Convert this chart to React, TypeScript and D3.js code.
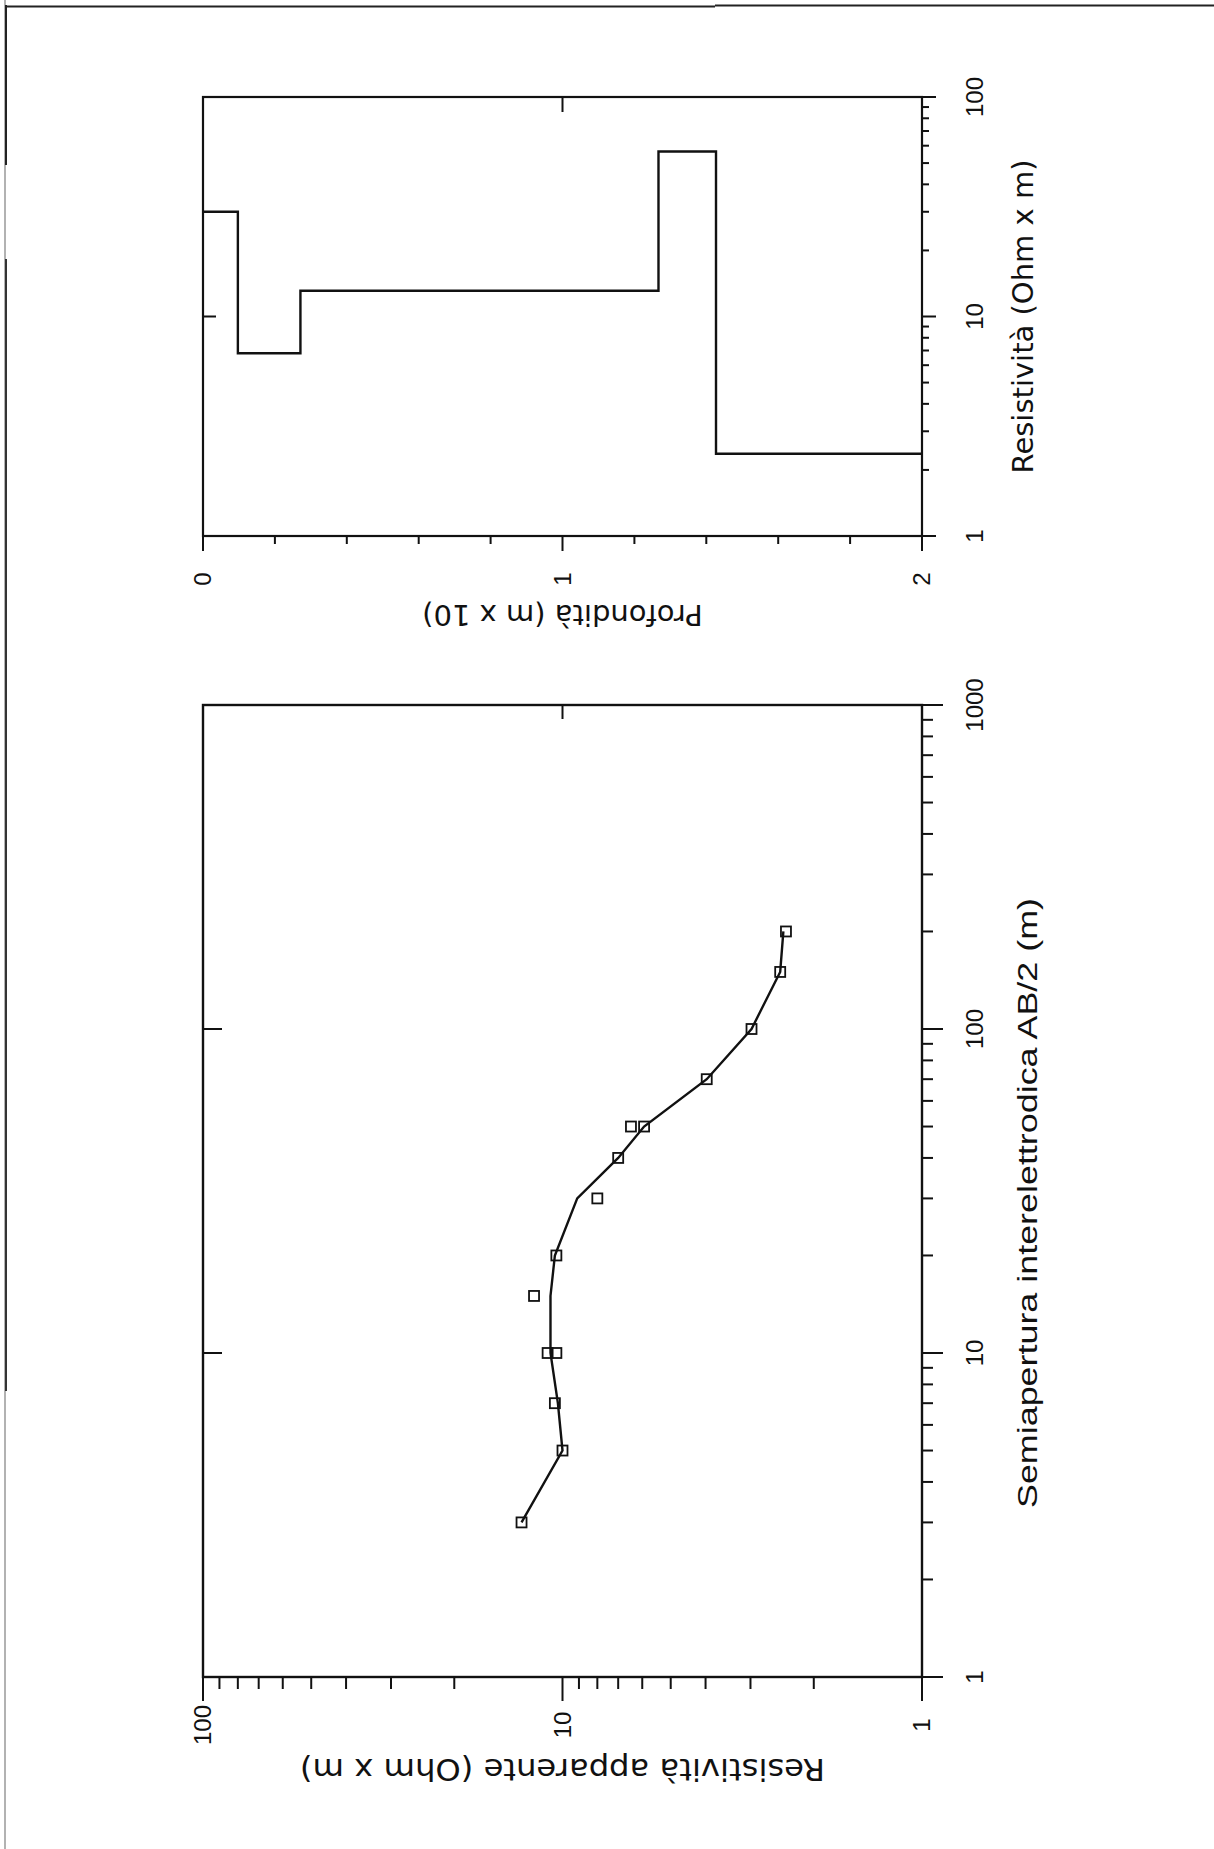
import React from 'react';
import * as d3 from 'd3';

// ---- Data ----
const abPoints = [3, 5, 7, 10, 10, 15, 20, 30, 40, 50, 50, 70, 100, 150, 200];
const rhoPoints = [13.0, 10.0, 10.5, 11.0, 10.4, 12.0, 10.4, 8.0, 7.0, 6.45, 5.93, 3.97, 2.98, 2.48, 2.39];
const abCurve = [3, 5, 7, 10, 15, 20, 30, 40, 50, 70, 100, 150, 200];
const rhoCurve = [13.0, 10.0, 10.3, 10.8, 10.8, 10.5, 9.1, 7.0, 5.93, 3.97, 2.98, 2.48, 2.43];
const layerRho = [30, 6.8, 13.1, 56.5, 2.37];
const layerTop = [0, 0.097, 0.271, 1.267, 1.427];
const maxDepth = 2;
const abTickLabels = [1, 10, 100, 1000];
const rhoTickLabels = [1, 10, 100];
const resTickLabels = [1, 10, 100];
const depthTickLabels = [0, 1, 2];

const titleAB = 'Semiapertura interelettrodica AB/2 (m)';
const titleRhoA = 'Resistività apparente (Ohm x m)';
const titleRes = 'Resistività (Ohm x m)';
const titleDepth = 'Profondità (m x 10)';

const W = 1214;
const H = 1849;

export default function App() {
  // scales in the un-rotated (landscape) frame
  const xAB = d3.scaleLog().domain([1, 1000]).range([172, 1144]);
  const yRho = d3.scaleLog().domain([1, 100]).range([922, 203]);
  const xRes = d3.scaleLog().domain([1, 100]).range([1313, 1752]);
  const yDep = d3.scaleLinear().domain([0, maxDepth]).range([203, 922]);

  const isPow10 = (t: number) => Math.abs(Math.log10(t) - Math.round(Math.log10(t))) < 1e-9;

  const curve = d3
    .line<[number, number]>()
    .x((d) => xAB(d[0]))
    .y((d) => yRho(d[1]))(abCurve.map((a, i) => [a, rhoCurve[i]] as [number, number]));

  const stepPts: [number, number][] = [];
  layerRho.forEach((r, i) => {
    const top = layerTop[i];
    const bot = i + 1 < layerTop.length ? layerTop[i + 1] : maxDepth;
    stepPts.push([r, top]);
    stepPts.push([r, bot]);
  });
  const step = d3
    .line<[number, number]>()
    .x((d) => xRes(d[0]))
    .y((d) => yDep(d[1]))(stepPts);

  const tickFont = '"Liberation Sans", Arial, sans-serif';
  const titleFont = '"DejaVu Sans", "Liberation Sans", sans-serif';

  return (
    <svg
      width={W}
      height={H}
      style={{ position: 'absolute', left: 0, top: 0, background: '#fff' }}
    >
      <rect x={0} y={0} width={W} height={H} fill="#fff" />
      {/* page border (scan frame) */}
      <line x1={5} y1={0} x2={5} y2={H} stroke="#999" strokeWidth={1.5} />
      <line x1={6} y1={5} x2={6} y2={165} stroke="#222" strokeWidth={2} />
      <line x1={6} y1={259} x2={6} y2={1391} stroke="#333" strokeWidth={2} />
      <line x1={5} y1={6.5} x2={715} y2={6.5} stroke="#222" strokeWidth={2} />
      <line x1={715} y1={5.5} x2={W} y2={5.5} stroke="#222" strokeWidth={2} />

      <g transform={`translate(0,${H}) rotate(-90)`} fill="none" stroke="#111">
        {/* ===== Left (VES) plot ===== */}
        <rect x={172} y={203} width={1144 - 172} height={922 - 203} strokeWidth={2.4} />
        {/* bottom axis: AB/2 */}
        {xAB.ticks().map((t, i) => (
          <line key={'ab' + i} x1={xAB(t)} x2={xAB(t)} y1={922} y2={922 + (isPow10(t) ? 21 : 11)} strokeWidth={2} />
        ))}
        {/* left axis: rho apparent */}
        {yRho.ticks().map((t, i) => (
          <line key={'rh' + i} x1={172} x2={172 - (isPow10(t) ? 24 : 12)} y1={yRho(t)} y2={yRho(t)} strokeWidth={2} />
        ))}
        {/* inner mirror ticks */}
        {[10, 100].map((t) => (
          <line key={'abt' + t} x1={xAB(t)} x2={xAB(t)} y1={203} y2={203 + 19} strokeWidth={2} />
        ))}
        <line x1={1144} x2={1144 - 14} y1={yRho(10)} y2={yRho(10)} strokeWidth={2} />

        <path d={curve || ''} strokeWidth={2.4} />
        {abPoints.map((a, i) => (
          <rect
            key={'pt' + i}
            x={xAB(a) - 5}
            y={yRho(rhoPoints[i]) - 5}
            width={10}
            height={10}
            strokeWidth={1.8}
          />
        ))}

        {/* ===== Right (model) plot ===== */}
        <rect x={1313} y={203} width={1752 - 1313} height={922 - 203} strokeWidth={2.2} />
        {xRes.ticks().map((t, i) => (
          <line key={'rs' + i} x1={xRes(t)} x2={xRes(t)} y1={922} y2={922 + (isPow10(t) ? 14 : 7)} strokeWidth={2} />
        ))}
        {yDep.ticks(10).map((t, i) => (
          <line
            key={'dp' + i}
            x1={1313}
            x2={1313 - (Math.abs(t - Math.round(t)) < 1e-9 ? 15 : 8)}
            y1={yDep(t)}
            y2={yDep(t)}
            strokeWidth={2}
          />
        ))}
        <line x1={xRes(10)} x2={xRes(10)} y1={203} y2={203 + 13} strokeWidth={2} />
        <line x1={1752} x2={1752 - 15} y1={yDep(1)} y2={yDep(1)} strokeWidth={2} />
        <path d={step || ''} strokeWidth={2.4} />

        {/* ===== Text ===== */}
        <g fill="#111" stroke="none" fontFamily={tickFont} fontSize={24}>
          {abTickLabels.map((t) => (
            <text key={'abl' + t} x={xAB(t)} y={983} textAnchor="middle">
              {t}
            </text>
          ))}
          {rhoTickLabels.map((t) => (
            <text key={'rhl' + t} x={124} y={yRho(t) + 8} textAnchor="middle">
              {t}
            </text>
          ))}
          {resTickLabels.map((t) => (
            <text key={'rsl' + t} x={xRes(t)} y={983} textAnchor="middle">
              {t}
            </text>
          ))}
          {depthTickLabels.map((t) => (
            <text key={'dpl' + t} x={1270} y={yDep(t) + 8} textAnchor="middle">
              {t}
            </text>
          ))}
        </g>
        <g fill="#111" stroke="none" fontFamily={titleFont}>
          <text
            x={646}
            y={1037}
            textAnchor="middle"
            fontSize={27}
            textLength={610}
            lengthAdjust="spacingAndGlyphs"
            fontFamily='"Liberation Sans", Arial, sans-serif'
          >
            {titleAB}
          </text>
          <text
            transform={`translate(90,${(203 + 922) / 2}) rotate(-90)`}
            textAnchor="middle"
            fontSize={30}
            textLength={525}
            lengthAdjust="spacingAndGlyphs"
          >
            {titleRhoA}
          </text>
          <text x={(1313 + 1752) / 2} y={1033} textAnchor="middle" fontSize={29}>
            {titleRes}
          </text>
          <text
            transform={`translate(1244,${(203 + 922) / 2}) rotate(-90)`}
            textAnchor="middle"
            fontSize={29}
          >
            {titleDepth}
          </text>
        </g>
      </g>
    </svg>
  );
}
